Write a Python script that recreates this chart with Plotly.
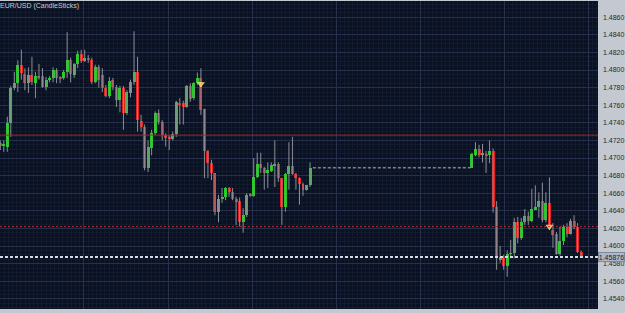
import plotly.graph_objects as go

# ---------------- data ----------------
bar_index = list(range(-2, 87)) + list(range(132, 164))

open_ = [1.4717, 1.4714, 1.4713, 1.4740, 1.4780, 1.4785, 1.4806, 1.4795, 1.4785, 1.4794,
         1.4785, 1.4793, 1.4793, 1.4781, 1.4789, 1.4791, 1.4800, 1.4791, 1.4791, 1.4798,
         1.4811, 1.4794, 1.4807, 1.4818, 1.4810, 1.4814, 1.4811, 1.4786, 1.4803, 1.4794,
         1.4780, 1.4770, 1.4789, 1.4781, 1.4766, 1.4780, 1.4751, 1.4774, 1.4786, 1.4798,
         1.4742, 1.4735, 1.4689, 1.4711, 1.4728, 1.4751, 1.4741, 1.4726, 1.4723, 1.4722,
         1.4727, 1.4762, 1.4763, 1.4758, 1.4782, 1.4768, 1.4785, 1.4791, 1.4756, 1.4708,
         1.4694, 1.4683, 1.4639, 1.4653, 1.4656, 1.4666, 1.4661, 1.4653, 1.4651, 1.4627,
         1.4635, 1.4658, 1.4657, 1.4678, 1.4693, 1.4689, 1.4683, 1.4685, 1.4691, 1.4693,
         1.4677, 1.4644, 1.4682, 1.4691, 1.4682, 1.4677, 1.4670, 1.4664, 1.4669,
         1.4689, 1.4703, 1.4710, 1.4704, 1.4705, 1.4703, 1.4708, 1.4644, 1.4585, 1.4586,
         1.4577, 1.4591, 1.4592, 1.4627, 1.4609, 1.4627, 1.4634, 1.4628, 1.4642, 1.4644,
         1.4651, 1.4630, 1.4649, 1.4618, 1.4614, 1.4591, 1.4606, 1.4622, 1.4614, 1.4628,
         1.4622, 1.4593]
high = [1.4720, 1.4720, 1.4747, 1.4782, 1.4798, 1.4811, 1.4823, 1.4802, 1.4803, 1.4815,
        1.4798, 1.4807, 1.4802, 1.4792, 1.4793, 1.4803, 1.4802, 1.4793, 1.4800, 1.4843,
        1.4814, 1.4808, 1.4822, 1.4823, 1.4823, 1.4817, 1.4814, 1.4806, 1.4806, 1.4802,
        1.4783, 1.4792, 1.4791, 1.4783, 1.4782, 1.4782, 1.4777, 1.4789, 1.4844, 1.4815,
        1.4749, 1.4738, 1.4720, 1.4732, 1.4753, 1.4755, 1.4743, 1.4728, 1.4726, 1.4730,
        1.4765, 1.4768, 1.4765, 1.4783, 1.4785, 1.4786, 1.4797, 1.4802, 1.4756, 1.4709,
        1.4698, 1.4683, 1.4658, 1.4666, 1.4667, 1.4667, 1.4666, 1.4656, 1.4655, 1.4643,
        1.4660, 1.4660, 1.4700, 1.4706, 1.4706, 1.4690, 1.4695, 1.4695, 1.4720, 1.4695,
        1.4677, 1.4683, 1.4718, 1.4724, 1.4683, 1.4678, 1.4672, 1.4669, 1.4695,
        1.4706, 1.4718, 1.4715, 1.4716, 1.4708, 1.4720, 1.4711, 1.4651, 1.4600, 1.4590,
        1.4595, 1.4607, 1.4632, 1.4633, 1.4632, 1.4642, 1.4639, 1.4665, 1.4669, 1.4661,
        1.4672, 1.4661, 1.4678, 1.4626, 1.4616, 1.4622, 1.4624, 1.4626, 1.4631, 1.4635,
        1.4626, 1.4595]
low = [1.4709, 1.4707, 1.4707, 1.4724, 1.4777, 1.4775, 1.4789, 1.4777, 1.4774, 1.4783,
       1.4768, 1.4789, 1.4780, 1.4777, 1.4786, 1.4786, 1.4785, 1.4785, 1.4789, 1.4791,
       1.4786, 1.4791, 1.4802, 1.4808, 1.4809, 1.4808, 1.4784, 1.4785, 1.4780, 1.4775,
       1.4769, 1.4768, 1.4777, 1.4758, 1.4752, 1.4732, 1.4749, 1.4769, 1.4783, 1.4730,
       1.4730, 1.4686, 1.4684, 1.4703, 1.4726, 1.4738, 1.4720, 1.4713, 1.4709, 1.4720,
       1.4724, 1.4738, 1.4738, 1.4757, 1.4764, 1.4766, 1.4783, 1.4749, 1.4677, 1.4677,
       1.4675, 1.4635, 1.4627, 1.4649, 1.4652, 1.4656, 1.4652, 1.4624, 1.4622, 1.4615,
       1.4633, 1.4656, 1.4656, 1.4677, 1.4683, 1.4664, 1.4666, 1.4684, 1.4667, 1.4673,
       1.4624, 1.4639, 1.4664, 1.4681, 1.4664, 1.4647, 1.4657, 1.4663, 1.4667,
       1.4689, 1.4702, 1.4701, 1.4695, 1.4683, 1.4694, 1.4638, 1.4573, 1.4581, 1.4573,
       1.4565, 1.4586, 1.4586, 1.4603, 1.4607, 1.4624, 1.4624, 1.4627, 1.4641, 1.4632,
       1.4627, 1.4627, 1.4618, 1.4598, 1.4590, 1.4589, 1.4601, 1.4610, 1.4613, 1.4619,
       1.4592, 1.4587]
close = [1.4714, 1.4715, 1.4740, 1.4780, 1.4785, 1.4806, 1.4797, 1.4785, 1.4794, 1.4786,
         1.4793, 1.4792, 1.4781, 1.4789, 1.4791, 1.4800, 1.4791, 1.4790, 1.4798, 1.4811,
         1.4795, 1.4807, 1.4818, 1.4810, 1.4814, 1.4811, 1.4786, 1.4803, 1.4789, 1.4780,
         1.4770, 1.4788, 1.4781, 1.4766, 1.4780, 1.4751, 1.4775, 1.4786, 1.4798, 1.4743,
         1.4735, 1.4689, 1.4713, 1.4728, 1.4751, 1.4741, 1.4726, 1.4723, 1.4722, 1.4727,
         1.4764, 1.4761, 1.4758, 1.4782, 1.4767, 1.4785, 1.4791, 1.4755, 1.4708, 1.4694,
         1.4683, 1.4639, 1.4653, 1.4656, 1.4666, 1.4661, 1.4653, 1.4651, 1.4627, 1.4635,
         1.4658, 1.4657, 1.4678, 1.4693, 1.4689, 1.4683, 1.4686, 1.4692, 1.4693, 1.4677,
         1.4644, 1.4682, 1.4691, 1.4682, 1.4677, 1.4670, 1.4664, 1.4669, 1.4689,
         1.4705, 1.4710, 1.4703, 1.4705, 1.4703, 1.4708, 1.4644, 1.4586, 1.4587, 1.4577,
         1.4591, 1.4592, 1.4627, 1.4609, 1.4627, 1.4634, 1.4628, 1.4642, 1.4644, 1.4651,
         1.4630, 1.4649, 1.4622, 1.4613, 1.4591, 1.4606, 1.4622, 1.4614, 1.4628, 1.4622,
         1.4593, 1.45876]

price_ticks = [1.4540, 1.4560, 1.4580, 1.4600, 1.4620, 1.4640, 1.4660, 1.4680, 1.4700,
               1.4720, 1.4740, 1.4760, 1.4780, 1.4800, 1.4820, 1.4840, 1.4860]
top_tick = 1.4880
resistance_level = 1.4726
support_level = 1.4622
current_price = 1.45876
arrow_index = [55, 154]
arrow_price = [1.4784, 1.4622]
title_text = "EUR/USD (CandleSticks)"

# ---------------- figure ----------------
GREEN = "#22cc22"
RED = "#e22222"
WICK = "#8a8e96"

wx, wy = [], []
for i, h, l in zip(bar_index, high, low):
    wx += [i, i, None]
    wy += [l, h, None]

body_base = [min(o, c) for o, c in zip(open_, close)]
body_len = [abs(c - o) for o, c in zip(open_, close)]
body_col = [GREEN if c >= o else RED for o, c in zip(open_, close)]

fig = go.Figure()
fig.add_trace(go.Scatter(x=wx, y=wy, mode="lines",
                         line=dict(color=WICK, width=1), hoverinfo="skip"))
fig.add_trace(go.Bar(x=bar_index, y=body_len, base=body_base, width=0.85,
                     marker=dict(color=body_col, line=dict(width=0))))

# gap connector between the two sessions
seg_end = bar_index.index(86)
fig.add_trace(go.Scatter(x=[bar_index[seg_end] + 0.8, bar_index[seg_end + 1] - 0.5],
                         y=[close[seg_end], open_[seg_end + 1]], mode="lines",
                         line=dict(color="#7c8088", width=1.5, dash="3px,2px")))

fig.add_trace(go.Scatter(x=arrow_index, y=arrow_price, mode="markers",
                         marker=dict(symbol="triangle-down", size=6, color="#f6c445",
                                     line=dict(color="#fff2b0", width=0.5))))

fig.add_shape(type="line", xref="paper", x0=0, x1=1, yref="y",
              y0=resistance_level, y1=resistance_level,
              line=dict(color="#a82626", width=1))
fig.add_shape(type="line", xref="paper", x0=0, x1=1, yref="y",
              y0=support_level, y1=support_level,
              line=dict(color="#c02a2a", width=1, dash="2px,2px"))
fig.add_shape(type="line", xref="paper", x0=0, x1=1, yref="y",
              y0=current_price, y1=current_price,
              line=dict(color="#d6dae4", width=2, dash="3px,2px"))

x_major = 84 / 3.52
fig.update_xaxes(range=[-2.07, 167.8], showticklabels=False, ticks="",
                 tickmode="linear", tick0=93.38, dtick=x_major,
                 showgrid=True, gridcolor="#26304a", gridwidth=1, zeroline=False,
                 showline=False,
                 minor=dict(tick0=93.38, dtick=x_major / 20, showgrid=True,
                            gridcolor="#121a2e", gridwidth=1))
fig.update_yaxes(range=[1.452841, 1.487841], side="right",
                 tickmode="array", tickvals=price_ticks,
                 ticktext=[f"{v:.4f}" for v in price_ticks],
                 tickfont=dict(family="Liberation Sans Narrow, Liberation Sans", size=7,
                               color="#26282c"),
                 ticks="", ticklabelstandoff=4,
                 showgrid=True, gridcolor="#26304a", gridwidth=1, zeroline=False,
                 showline=False,
                 minor=dict(dtick=0.0005, showgrid=True, gridcolor="#121a2e", gridwidth=1))

fig.add_annotation(xref="paper", x=1, xanchor="left", xshift=4, yref="y", y=top_tick,
                   yanchor="middle", text=f"{top_tick:.4f}", showarrow=False,
                   font=dict(family="Liberation Sans Narrow, Liberation Sans", size=7,
                             color="#26282c"))
fig.add_annotation(xref="paper", x=1, xanchor="left", xshift=0, yref="y", y=current_price,
                   yanchor="middle", text=f"{current_price:.5f}", showarrow=False,
                   bgcolor="#aeb6c8", bordercolor="#7d889c", borderwidth=1, borderpad=0,
                   width=25, height=8,
                   font=dict(family="Liberation Sans Narrow, Liberation Sans", size=7,
                             color="#1a1c22"))
fig.add_annotation(xref="paper", x=0, xanchor="left", xshift=-2, yref="paper", y=1,
                   yanchor="top", yshift=1, text=title_text, showarrow=False,
                   font=dict(family="Liberation Sans Narrow, Liberation Sans", size=7,
                             color="#c8ccd4"))

fig.update_layout(width=625, height=313, margin=dict(l=0, r=27, t=1, b=4),
                  paper_bgcolor="#c4c8d0", plot_bgcolor="#0a1122",
                  showlegend=False, bargap=0, barmode="overlay")

fig.write_html("out.html")
